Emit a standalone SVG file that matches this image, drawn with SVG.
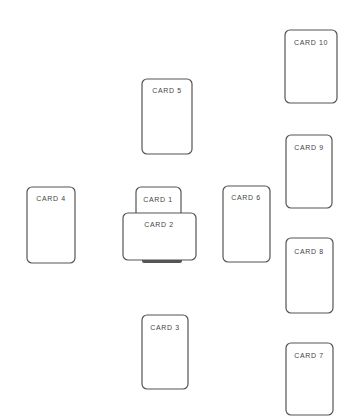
<svg xmlns="http://www.w3.org/2000/svg" width="363" height="418" viewBox="0 0 363 418">
<style>
.card{fill:#fff;stroke:#555;stroke-width:1.2}
.lbl{font-family:"Liberation Sans",Arial,sans-serif;font-size:7px;fill:#444;letter-spacing:0.6px;text-anchor:middle}
</style>
<rect width="363" height="418" fill="#fff"/>
<g id="card10"><rect class="card" x="285" y="30" width="52" height="73" rx="5"/><text class="lbl" x="311" y="45">CARD 10</text></g>
<g id="card5"><rect class="card" x="142" y="79" width="50" height="75" rx="5"/><text class="lbl" x="167" y="93">CARD 5</text></g>
<g id="card9"><rect class="card" x="286" y="135" width="46" height="73" rx="5"/><text class="lbl" x="309" y="150">CARD 9</text></g>
<g id="card4"><rect class="card" x="27" y="187" width="48" height="76" rx="5"/><text class="lbl" x="51" y="201">CARD 4</text></g>
<g id="card6"><rect class="card" x="223" y="186" width="47" height="76" rx="5"/><text class="lbl" x="246" y="200">CARD 6</text></g>
<g id="card1"><rect class="card" x="136" y="187" width="45" height="40" rx="5"/><text class="lbl" x="158" y="202">CARD 1</text></g>
<g id="card2"><rect x="142" y="258" width="40" height="5" rx="2" fill="#555"/><rect class="card" x="123" y="213" width="73" height="47" rx="5"/><text class="lbl" x="159" y="227">CARD 2</text></g>
<g id="card8"><rect class="card" x="286" y="238" width="47" height="75" rx="5"/><text class="lbl" x="309" y="254">CARD 8</text></g>
<g id="card3"><rect class="card" x="142" y="315" width="46" height="74" rx="5"/><text class="lbl" x="165" y="330">CARD 3</text></g>
<g id="card7"><rect class="card" x="286" y="343" width="47" height="72" rx="5"/><text class="lbl" x="309" y="358">CARD 7</text></g>
<g id="connectors"></g>
</svg>
